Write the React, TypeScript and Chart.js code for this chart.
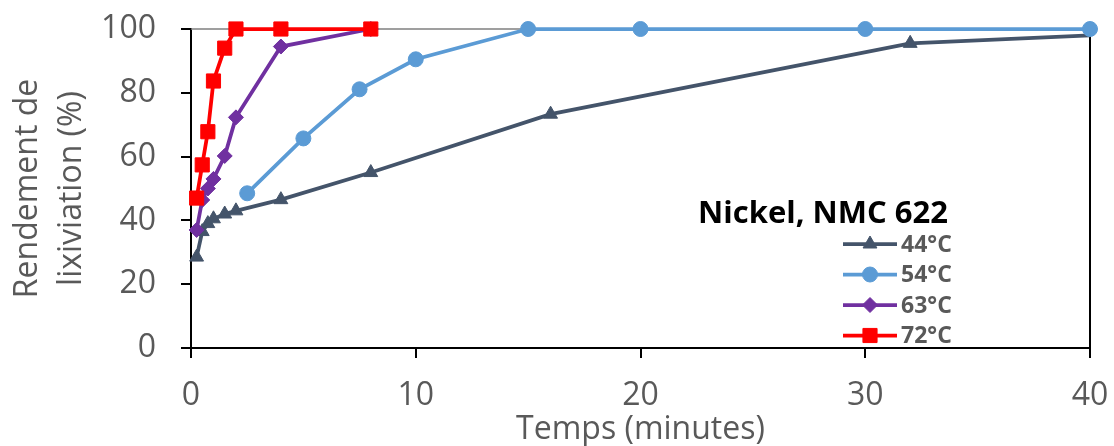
import React, { useEffect, useRef } from "react";
import { Chart, registerables } from "chart.js";

Chart.register(...registerables);

const seriesNames = ["44°C", "54°C", "63°C", "72°C"];
const seriesColors = ["#44546A", "#5B9BD5", "#7030A0", "#FF0000"];
const seriesMarkers = ["triangle", "circle", "rectRot", "rect"];
const markerRadius = [8, 7.5, 7.5, 10];

const t44 = [0.25, 0.5, 0.75, 1, 1.5, 2, 4, 8, 16, 32, 40];
const y44 = [28.5, 36.5, 39, 40.5, 42, 43, 46.5, 55, 73.3, 95.5, 98];
const t54 = [2.5, 5, 7.5, 10, 15, 20, 30, 40];
const y54 = [48.5, 65.7, 81.1, 90.5, 100, 100, 100, 100];
const t63 = [0.25, 0.5, 0.75, 1, 1.5, 2, 4, 8];
const y63 = [37, 46.4, 50, 53, 60.2, 72.3, 94.5, 100];
const t72 = [0.25, 0.5, 0.75, 1, 1.5, 2, 4, 8];
const y72 = [47, 57.4, 67.8, 83.7, 94, 100, 100, 100];

const legendTitle = "Nickel, NMC 622";
const xTitle = "Temps (minutes)";
const yTitle = ["Rendement de", "lixiviation (%)"];

const FONT = "'Open Sans', 'Noto Sans', sans-serif";
const GRAY = "#595959";

const toPts = (xs: number[], ys: number[]) => xs.map((x, i) => ({ x, y: ys[i] }));

function drawMarker(ctx: CanvasRenderingContext2D, style: string, r: number, x: number, y: number) {
  ctx.beginPath();
  if (style === "triangle") {
    for (let k = 0; k < 3; k++) {
      const a = (k * 2 * Math.PI) / 3;
      const px = x + Math.sin(a) * r;
      const py = y - Math.cos(a) * r;
      if (k === 0) ctx.moveTo(px, py);
      else ctx.lineTo(px, py);
    }
    ctx.closePath();
  } else if (style === "circle") {
    ctx.arc(x, y, r, 0, Math.PI * 2);
  } else if (style === "rectRot") {
    ctx.moveTo(x, y - r);
    ctx.lineTo(x + r, y);
    ctx.lineTo(x, y + r);
    ctx.lineTo(x - r, y);
    ctx.closePath();
  } else {
    const s = Math.SQRT1_2 * r;
    ctx.rect(x - s, y - s, 2 * s, 2 * s);
  }
  ctx.fill();
  ctx.stroke();
}

const framePlugin = {
  id: "frame",
  beforeDatasetsDraw(chart: any) {
    const { ctx, chartArea: a } = chart;
    ctx.save();
    ctx.strokeStyle = "#7f7f7f";
    ctx.lineWidth = 1.5;
    ctx.beginPath();
    ctx.moveTo(a.left, a.top);
    ctx.lineTo(a.right, a.top);
    ctx.stroke();
    ctx.strokeStyle = "#000";
    ctx.lineWidth = 2;
    ctx.beginPath();
    ctx.moveTo(a.right, a.top);
    ctx.lineTo(a.right, a.bottom);
    ctx.stroke();
    ctx.restore();
  },
};

const legendPlugin = {
  id: "customLegend",
  afterDraw(chart: any) {
    const { ctx } = chart;
    ctx.save();
    ctx.fillStyle = "#000";
    ctx.font = `bold 31px ${FONT}`;
    ctx.textAlign = "right";
    ctx.textBaseline = "middle";
    ctx.fillText(legendTitle, 948, 214);
    const rowY = [244, 274.5, 305, 335.5];
    chart.data.datasets.forEach((ds: any, i: number) => {
      const y = rowY[i];
      ctx.strokeStyle = ds.borderColor;
      ctx.lineWidth = 3.75;
      ctx.beginPath();
      ctx.moveTo(843, y);
      ctx.lineTo(897, y);
      ctx.stroke();
      ctx.fillStyle = ds.pointBackgroundColor;
      ctx.strokeStyle = ds.pointBackgroundColor;
      ctx.lineWidth = 1;
      drawMarker(ctx, seriesMarkers[i], markerRadius[i], 870, y);
      ctx.fillStyle = GRAY;
      ctx.font = `bold 23px ${FONT}`;
      ctx.textAlign = "left";
      ctx.fillText(ds.label, 901, y + 1);
    });
    ctx.restore();
  },
};

const zeroPad = (s: any) => {
  s.paddingTop = 0;
  s.paddingBottom = 0;
  s.paddingLeft = 0;
  s.paddingRight = 0;
};

export default function App() {
  const ref = useRef<HTMLCanvasElement>(null);
  useEffect(() => {
    document.body.style.margin = "0";
    const series = [toPts(t44, y44), toPts(t54, y54), toPts(t63, y63), toPts(t72, y72)];
    const chart = new Chart(ref.current as HTMLCanvasElement, {
      type: "scatter",
      data: {
        datasets: series.map((data, i) => ({
          label: seriesNames[i],
          data,
          order: series.length - i,
          showLine: true,
          borderColor: seriesColors[i],
          backgroundColor: seriesColors[i],
          pointBackgroundColor: seriesColors[i],
          pointBorderColor: seriesColors[i],
          pointBorderWidth: 1,
          borderWidth: 3.75,
          pointStyle: seriesMarkers[i],
          pointRadius: data.map((_, j) => (i === 0 && j === data.length - 1 ? 0 : markerRadius[i])),
          clip: false,
        })),
      },
      options: {
        animation: false,
        responsive: false,
        devicePixelRatio: 1,
        layout: { padding: { left: 0, top: 29, right: 24, bottom: 0 } },
        plugins: { legend: { display: false }, tooltip: { enabled: false } },
        scales: {
          x: {
            type: "linear",
            min: 0,
            max: 40,
            afterFit: (s: any) => {
              s.height = 98;
              zeroPad(s);
            },
            ticks: { stepSize: 10, color: GRAY, font: { family: FONT, size: 32 }, padding: 19 },
            grid: { drawOnChartArea: false, drawTicks: true, tickLength: 10, color: "#000", lineWidth: 2 },
            border: { display: true, color: "#000", width: 2 },
            title: { display: true, text: xTitle, color: GRAY, font: { family: FONT, size: 32, lineHeight: 1 }, padding: 0 },
          },
          y: {
            min: 0,
            max: 100,
            afterFit: (s: any) => {
              s.width = 191;
              zeroPad(s);
            },
            ticks: { stepSize: 20, color: GRAY, font: { family: FONT, size: 32 }, padding: 25 },
            grid: { drawOnChartArea: false, drawTicks: true, tickLength: 10, color: "#000", lineWidth: 2 },
            border: { display: true, color: "#000", width: 2 },
            title: { display: true, text: yTitle, color: GRAY, font: { family: FONT, size: 32, lineHeight: 1.4 }, padding: { top: 5, bottom: 0 } },
          },
        },
      },
      plugins: [framePlugin, legendPlugin],
    });
    return () => chart.destroy();
  }, []);
  return (
    <div style={{ position: "absolute", left: 0, top: 0, width: 1114, height: 446 }}>
      <canvas ref={ref} width={1114} height={446} />
    </div>
  );
}
